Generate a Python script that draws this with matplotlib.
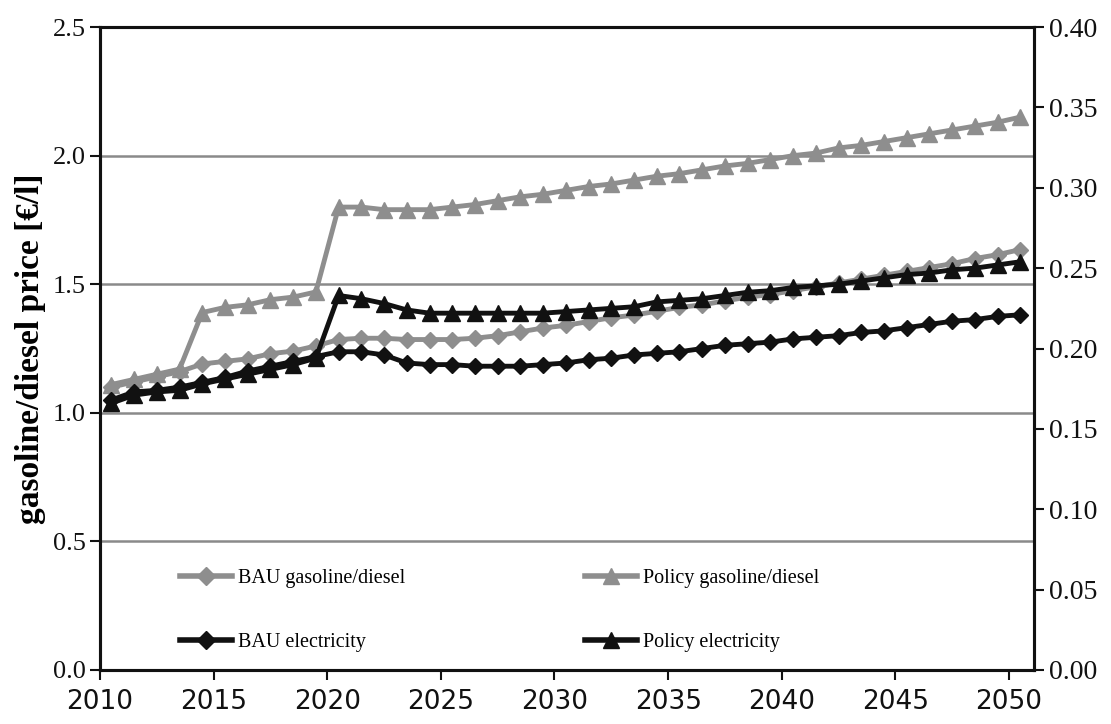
import numpy as np
import matplotlib
matplotlib.use('Agg')
import matplotlib.pyplot as plt
from matplotlib.lines import Line2D

# Years 2010..2050, one value per year
years = np.arange(2010, 2051)

# gasoline/diesel price [EUR/l] (left axis)
bau_gasoline = [1.10, 1.12, 1.14, 1.16, 1.19, 1.20, 1.21, 1.23, 1.24, 1.26,
                1.285, 1.29, 1.29, 1.285, 1.285, 1.285, 1.29, 1.30, 1.315, 1.33,
                1.34, 1.355, 1.37, 1.38, 1.395, 1.41, 1.42, 1.435, 1.45, 1.46,
                1.475, 1.49, 1.505, 1.52, 1.535, 1.55, 1.565, 1.58, 1.60, 1.615,
                1.635]
policy_gasoline = [1.11, 1.13, 1.15, 1.17, 1.39, 1.41, 1.42, 1.44, 1.45, 1.47,
                   1.80, 1.80, 1.79, 1.79, 1.79, 1.80, 1.81, 1.825, 1.84, 1.85,
                   1.865, 1.88, 1.89, 1.905, 1.92, 1.93, 1.945, 1.96, 1.97, 1.985,
                   2.00, 2.01, 2.03, 2.04, 2.055, 2.07, 2.085, 2.10, 2.115, 2.13,
                   2.15]

# electricity price (right axis)
bau_electricity = [0.168, 0.173, 0.174, 0.176, 0.179, 0.182, 0.186, 0.189, 0.192, 0.195,
                   0.198, 0.198, 0.196, 0.191, 0.190, 0.190, 0.189, 0.189, 0.189, 0.190,
                   0.191, 0.193, 0.194, 0.196, 0.197, 0.198, 0.200, 0.202, 0.203, 0.204,
                   0.206, 0.207, 0.208, 0.210, 0.211, 0.213, 0.215, 0.217, 0.218, 0.220,
                   0.221]
policy_electricity = [0.166, 0.171, 0.173, 0.174, 0.178, 0.181, 0.184, 0.187, 0.190, 0.194,
                      0.233, 0.231, 0.228, 0.224, 0.222, 0.222, 0.222, 0.222, 0.222, 0.222,
                      0.223, 0.224, 0.225, 0.226, 0.229, 0.230, 0.231, 0.233, 0.235, 0.236,
                      0.238, 0.239, 0.240, 0.242, 0.244, 0.246, 0.247, 0.249, 0.250, 0.252,
                      0.254]

left_ticks = [0.0, 0.5, 1.0, 1.5, 2.0, 2.5]
right_ticks = [0.00, 0.05, 0.10, 0.15, 0.20, 0.25, 0.30, 0.35, 0.40]
x_ticks = [2010, 2015, 2020, 2025, 2030, 2035, 2040, 2045, 2050]

GRAY = '#8e8e8e'
BLACK = '#111111'
serif = 'Liberation Serif'

# points sit in the middle of each year
xpos = years + 0.5

fig = plt.figure(figsize=(11.11, 7.24), dpi=100)
ax = fig.add_axes([0.090, 0.0746, 0.8407, 0.888])
ax2 = ax.twinx()

# horizontal grid lines at the left ticks
for v in left_ticks[1:-1]:
    ax.axhline(v, color='#8a8a8a', lw=1.8, zorder=0)

ax.plot(xpos, bau_gasoline, color=GRAY, lw=3.5, marker='D', ms=8, zorder=3)
ax.plot(xpos, policy_gasoline, color=GRAY, lw=3.5, marker='^', ms=11, zorder=3)
ax2.plot(xpos, bau_electricity, color=BLACK, lw=3.5, marker='D', ms=8, zorder=3)
ax2.plot(xpos, policy_electricity, color=BLACK, lw=3.5, marker='^', ms=11, zorder=4)

ax.set_xlim(2010, 2051.1)
ax.set_ylim(0, 2.5)
ax2.set_ylim(0, 0.40)

ax.set_xticks(x_ticks)
ax.set_xticklabels([str(t) for t in x_ticks], family='DejaVu Sans', fontsize=19)
ax.set_yticks(left_ticks)
ax.set_yticklabels(['%.1f' % t for t in left_ticks], family=serif, fontsize=19)
ax2.set_yticks(right_ticks)
ax2.set_yticklabels(['%.2f' % t for t in right_ticks], family=serif, fontsize=20)

for a in (ax, ax2):
    for s in a.spines.values():
        s.set_linewidth(2.2)
        s.set_color(BLACK)
    a.tick_params(direction='out', length=7, width=1.5, colors=BLACK)
ax.tick_params(axis='x', pad=7)

ax.set_ylabel('gasoline/diesel price [\u20ac/l]', family=serif, fontsize=24,
              fontweight='bold')
ax.yaxis.set_label_coords(-0.058, 0.5)

handles = [
    Line2D([], [], color=GRAY, lw=4, marker='D', ms=9),
    Line2D([], [], color=BLACK, lw=4, marker='D', ms=9),
    Line2D([], [], color=GRAY, lw=4, marker='^', ms=11),
    Line2D([], [], color=BLACK, lw=4, marker='^', ms=11),
]
labels = ['BAU gasoline/diesel', 'BAU electricity',
          'Policy gasoline/diesel', 'Policy electricity']
leg = ax2.legend(handles, labels, ncol=2, loc='lower left',
                 bbox_to_anchor=(0.066, 0.0), frameon=False,
                 handlelength=2.6, handletextpad=0.3, columnspacing=8.9,
                 labelspacing=2.2, prop={'family': serif, 'size': 14.5})

fig.savefig('out.png', dpi=100)
